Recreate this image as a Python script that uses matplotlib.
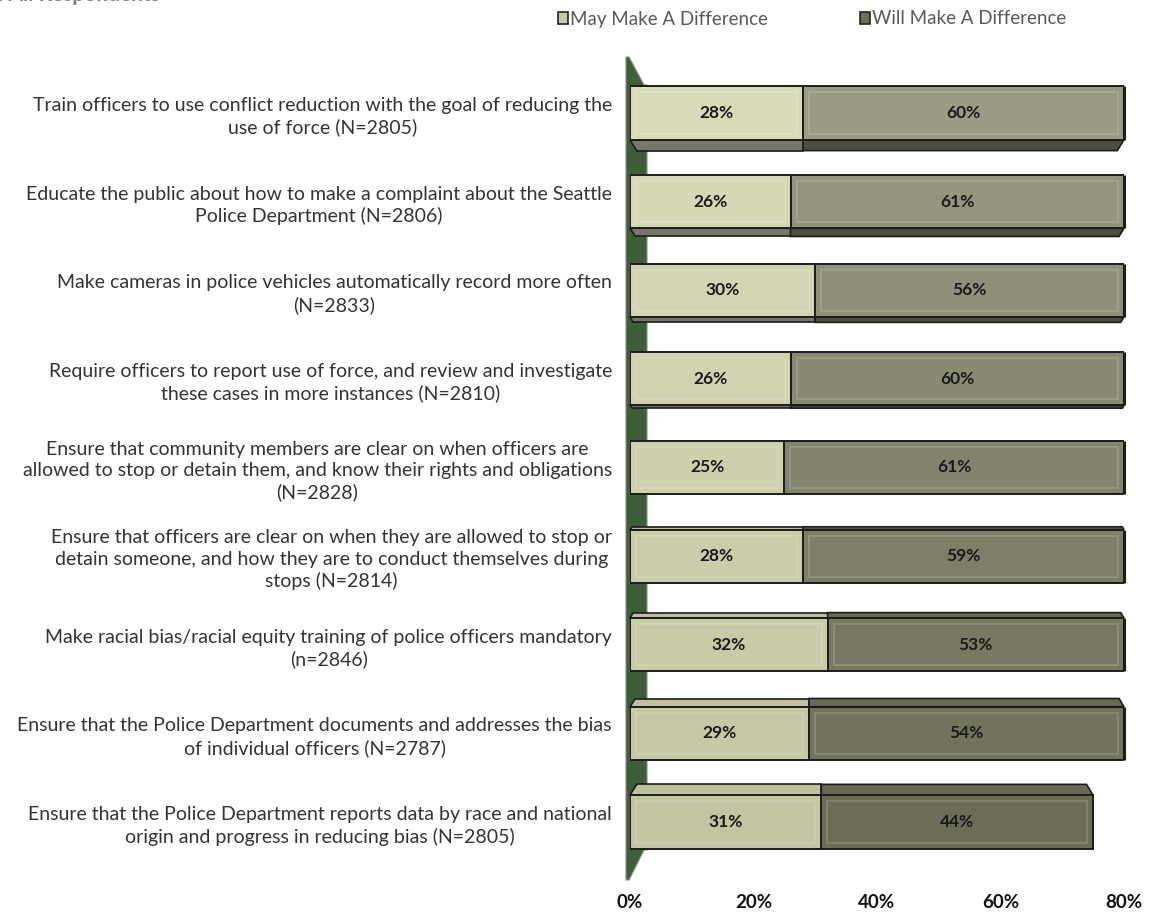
import numpy as np
import matplotlib.pyplot as plt
from matplotlib.patches import Polygon, Rectangle
from matplotlib.colors import to_rgb

plt.rcParams['font.family'] = ['Lato', 'DejaVu Sans']

# survey items, top to bottom
categories = [
    "Train officers to use conflict reduction with the goal of reducing the\nuse of force (N=2805)",
    "Educate the public about how to make a complaint about the Seattle\nPolice Department (N=2806)",
    "Make cameras in police vehicles automatically record more often\n(N=2833)",
    "Require officers to report use of force, and review and investigate\nthese cases in more instances (N=2810)",
    "Ensure that community members are clear on when officers are\nallowed to stop or detain them, and know their rights and obligations\n(N=2828)",
    "Ensure that officers are clear on when they are allowed to stop or\ndetain someone, and how they are to conduct themselves during\nstops (N=2814)",
    "Make racial bias/racial equity training of police officers mandatory\n(n=2846)",
    "Ensure that the Police Department documents and addresses the bias\nof individual officers (N=2787)",
    "Ensure that the Police Department reports data by race and national\norigin and progress in reducing bias (N=2805)",
]
may_pct = [28, 26, 30, 26, 25, 28, 32, 29, 31]
will_pct = [60, 61, 56, 60, 61, 59, 53, 54, 44]
series_names = ["May Make A Difference", "Will Make A Difference"]
tick_labels = ["0%", "20%", "40%", "60%", "80%"]

W, H = 1152, 916
fig = plt.figure(figsize=(W / 100, H / 100), dpi=100)
ax_left, ax_right, ax_top, ax_bot = 630, 1124, 57, 880
ax = fig.add_axes([ax_left / W, 1 - ax_bot / H, (ax_right - ax_left) / W, (ax_bot - ax_top) / H])

xmax = 0.8
n = len(categories)
ylo, yhi = n - 1 + 0.655, -0.632
ax.set_xlim(0, xmax)
ax.set_ylim(ylo, yhi)
px_x = (ax_right - ax_left) / xmax        # pixels per x unit
px_y = (ax_bot - ax_top) / (ylo - yhi)    # pixels per category


def blend(c1, c2, t):
    a, b = np.array(to_rgb(c1)), np.array(to_rgb(c2))
    return tuple(a + (b - a) * t)


y = np.arange(n)
may = np.array(may_pct) / 100
will = np.array(will_pct) / 100
bh = 0.6
edge = '#1c1c1c'

# lighting shifts from the top rows to the bottom rows
shade = y / (n - 1)
may_front = [blend('#dad9b8', '#c4c3a2', t) for t in shade]
will_front = [blend('#9b9a84', '#6d6c56', t) for t in shade]

ax.barh(y, may, height=bh, color=may_front, edgecolor=edge, linewidth=1.4, zorder=3)
ax.barh(y, will, left=may, height=bh, color=will_front, edgecolor=edge, linewidth=1.4, zorder=3)

# bars running past the axis end get a closing edge there
for i in range(n):
    if may[i] + will[i] > xmax:
        ax.plot([xmax, xmax], [i - bh / 2, i + bh / 2], color=edge, lw=2.2, zorder=4,
                solid_capstyle='butt', clip_on=False)

# side faces of the 3D bars: undersides for rows above the centre, tops below it
for i in range(n):
    d = 11 * (i - 4) / 4.0
    if abs(d) < 1:
        continue
    dy = d / px_y
    for left, width, cols in [(0, may[i], ('#77766a', '#c0bf9e')),
                              (may[i], will[i], ('#4e4d3f', '#6a6954'))]:
        x0 = left
        x1 = min(left + width, xmax)
        s0 = 0.6 * abs(d) / px_x if left == 0 else 0
        s1 = 0.6 * abs(d) / px_x if left > 0 else 0
        if d < 0:
            ye = i + bh / 2
            col = cols[0]
        else:
            ye = i - bh / 2
            col = cols[1]
        yb = ye - dy
        poly = Polygon([(x0, ye), (x1, ye), (x1 - s1, yb), (x0 + s0, yb)],
                       closed=True, facecolor=col, edgecolor=edge, linewidth=1.2, zorder=2,
                       clip_on=False)
        ax.add_patch(poly)

# inner bevel on the front faces
inset_x, inset_y = 6 / px_x, 6 / px_y
for i in range(n):
    for left, width in [(0, may[i]), (may[i], will[i])]:
        x1 = min(left + width, xmax)
        r = Rectangle((left + inset_x, i - bh / 2 + inset_y), x1 - left - 2 * inset_x, bh - 2 * inset_y,
                      fill=False, edgecolor='white', alpha=0.18, linewidth=1.2, zorder=4)
        ax.add_patch(r)

# value labels centred on the visible part of each segment
for i in range(n):
    ax.text(may[i] / 2, i, f"{may_pct[i]}%", ha='center', va='center',
            fontsize=12.5, fontweight='bold', color='#1a1a1a', zorder=5)
    end = min(may[i] + will[i], xmax)
    ax.text((may[i] + end) / 2, i, f"{will_pct[i]}%", ha='center', va='center',
            fontsize=12.5, fontweight='bold', color='#1a1a1a', zorder=5)

# green side wall
wall_px = [(626, 57), (629, 57), (644, 85), (647, 85), (647, 850), (644, 850), (629, 880), (626, 880)]
wall = Polygon([((px - ax_left) / px_x, yhi + (py - ax_top) / px_y) for px, py in wall_px],
               closed=True, facecolor='#3e5e3a', edgecolor='#8a8a8a', linewidth=0.8,
               zorder=1, clip_on=False)
ax.add_patch(wall)

ax.set_yticks(y)
ax.set_yticklabels(categories, fontsize=14, color='#333333', multialignment='center',
                   linespacing=1.3)
ax.tick_params(axis='y', length=0, pad=13)
ax.set_xticks(np.linspace(0, xmax, 5))
ax.set_xticklabels(tick_labels, fontsize=13.5, fontweight='bold', color='#111111')
ax.tick_params(axis='x', length=0, pad=10)
for sp in ax.spines.values():
    sp.set_visible(False)

# legend
handles = [Rectangle((0, 0), 1, 1, facecolor='#c9c8a7', edgecolor='#222222', linewidth=1.2),
           Rectangle((0, 0), 1, 1, facecolor='#6f6e59', edgecolor='#222222', linewidth=1.2)]
leg = fig.legend(handles, series_names, loc='center left', bbox_to_anchor=(558 / W, 1 - 19 / H),
                 ncol=2, frameon=False, fontsize=13.5, handlelength=0.55, handleheight=0.55,
                 handletextpad=0.1, columnspacing=4.9, borderaxespad=0, borderpad=0)
for t in leg.get_texts():
    t.set_color('#595959')

fig.text(-2 / W, 1 - 1 / H, ": All Respondents", fontsize=15, fontweight='bold',
         color='#7f7f7f', ha='left', va='baseline')

fig.savefig('out.png', dpi=100)
